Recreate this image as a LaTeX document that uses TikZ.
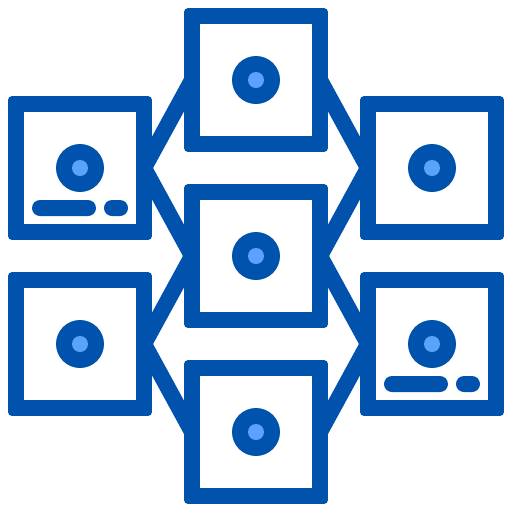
\documentclass[tikz,border=0pt]{standalone}
\usetikzlibrary{backgrounds}
\definecolor{dblue}{HTML}{0052AC}
\definecolor{lblue}{HTML}{5AA2FA}
\tikzset{
  sqout/.style={rectangle,fill=dblue,minimum width=2.88cm,minimum height=2.88cm,inner sep=0pt,outer sep=0pt,rounded corners=0.08cm},
  sqin/.style={rectangle,fill=white,minimum width=2.24cm,minimum height=2.24cm,inner sep=0pt,outer sep=0pt},
  ring/.style={circle,fill=dblue,minimum size=0.96cm,inner sep=0pt,outer sep=0pt},
  dot/.style={circle,fill=lblue,minimum size=0.32cm,inner sep=0pt,outer sep=0pt},
  longbar/.style={rectangle,fill=dblue,minimum width=1.28cm,minimum height=0.32cm,inner sep=0pt,outer sep=0pt,rounded corners=0.159cm},
  shortbar/.style={rectangle,fill=dblue,minimum width=0.48cm,minimum height=0.32cm,inner sep=0pt,outer sep=0pt,rounded corners=0.159cm},
  conn/.style={draw=dblue,line width=0.32cm,line join=miter}
}
\newcommand\mybox[3]{%
  \node[sqout] (#1) at (#2,#3) {};
  \node[sqin] (#1in) at (#2,#3) {};
  \node[ring] (#1ring) at (#2,#3) {};
  \node[dot] (#1dot) at (#2,#3) {};
}
\begin{document}
\begin{tikzpicture}[x=0.02cm,y=-0.02cm]
\useasboundingbox (0,0) rectangle (512,512);
\mybox{tc}{256}{80}
\mybox{mc}{256}{256}
\mybox{bc}{256}{432}
\mybox{tl}{80}{168}
\mybox{bl}{80}{344}
\mybox{tr}{432}{168}
\mybox{br}{432}{344}
\node[longbar] (tlbar1) at (64,208) {};
\node[shortbar] (tlbar2) at (116,208) {};
\node[longbar] (brbar1) at (416,384) {};
\node[shortbar] (brbar2) at (468,384) {};
\begin{scope}[on background layer]
\draw[conn] ([xshift=0.16cm]tc.west) -- ([xshift=-0.16cm]tl.east) -- ([xshift=0.16cm]mc.west);
\draw[conn] ([xshift=0.16cm]mc.west) -- ([xshift=-0.16cm]bl.east) -- ([xshift=0.16cm]bc.west);
\draw[conn] ([xshift=-0.16cm]tc.east) -- ([xshift=0.16cm]tr.west) -- ([xshift=-0.16cm]mc.east);
\draw[conn] ([xshift=-0.16cm]mc.east) -- ([xshift=0.16cm]br.west) -- ([xshift=-0.16cm]bc.east);
\end{scope}
\end{tikzpicture}
\end{document}
